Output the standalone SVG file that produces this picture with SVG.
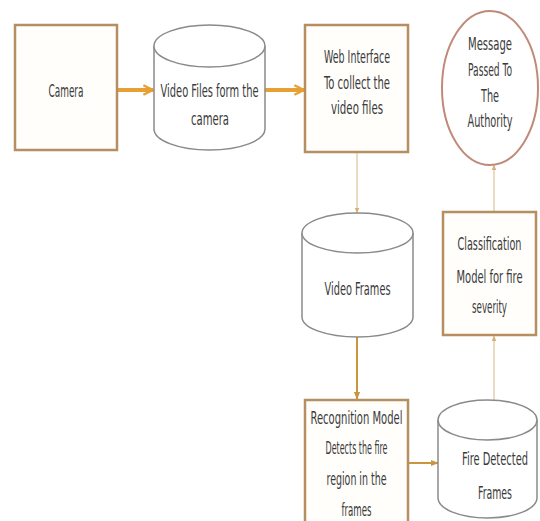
<svg xmlns="http://www.w3.org/2000/svg" width="540" height="521" viewBox="0 0 540 521">
<defs>
<style>
.box{fill:#fffefb;stroke:#b58f62;stroke-width:2.5}
.cyl{fill:#ffffff;stroke:#8a8a8a;stroke-width:1.5}
.msg{fill:#ffffff;stroke:#c08a78;stroke-width:2}
text{font-family:"Liberation Sans Narrow","DejaVu Sans Condensed","Liberation Sans",Arial,sans-serif;font-size:18px;fill:#3a3a3a;text-anchor:middle;dominant-baseline:central}
.thick{stroke:#e6a033;stroke-width:4;fill:none}
.mid{stroke:#c9953e;stroke-width:2;fill:none}
.thin{stroke:#dcc49a;stroke-width:1.2;fill:none}
</style>
<marker id="ahBig" viewBox="0 0 10 10" refX="9" refY="5" markerWidth="3" markerHeight="3.5" orient="auto" markerUnits="strokeWidth">
<path d="M1,1 L9,5 L1,9" fill="none" stroke="#e6a033" stroke-width="2"/>
</marker>
<marker id="ahMid" viewBox="0 0 10 10" refX="9" refY="5" markerWidth="4" markerHeight="4" orient="auto" markerUnits="strokeWidth">
<path d="M0,1 L10,5 L0,9 Z" fill="#c9953e"/>
</marker>
<marker id="ahThin" viewBox="0 0 10 10" refX="9" refY="5" markerWidth="5" markerHeight="5" orient="auto" markerUnits="strokeWidth">
<path d="M0,1 L10,5 L0,9 Z" fill="#d4b07a"/>
</marker>
</defs>
<rect width="540" height="521" fill="#ffffff"/>

<g id="connectors">
<line class="thick" x1="117" y1="90" x2="153" y2="90" marker-end="url(#ahBig)"/>
<line class="thick" x1="265" y1="90" x2="304" y2="90" marker-end="url(#ahBig)"/>
<line class="thin" x1="357" y1="152" x2="357" y2="213" marker-end="url(#ahThin)"/>
<line class="mid" x1="357" y1="337" x2="357" y2="399" marker-end="url(#ahMid)"/>
<line class="mid" x1="408" y1="463" x2="438" y2="463" stroke-width="1.5" marker-end="url(#ahMid)"/>
<line class="thin" x1="494" y1="400" x2="494" y2="336" marker-end="url(#ahThin)"/>
<line class="thin" x1="494" y1="211" x2="494" y2="165" marker-end="url(#ahThin)"/>
</g>

<g id="camera">
<rect class="box" x="15" y="25" width="102" height="125"/>
<text x="66" y="90" textLength="35" lengthAdjust="spacingAndGlyphs">Camera</text>
</g>

<g id="video-files">
<path class="cyl" d="M154,46 A55.5,21 0 0 1 265,46 V129 A55.5,21 0 0 1 154,129 Z"/>
<path class="cyl" fill="none" d="M154,46 A55.5,21 0 0 0 265,46"/>
<text x="209.5" y="90" textLength="98" lengthAdjust="spacingAndGlyphs">Video Files form the</text>
<text x="210" y="118" textLength="38" lengthAdjust="spacingAndGlyphs">camera</text>
</g>

<g id="web-interface">
<rect class="box" x="305" y="25" width="103" height="127"/>
<text x="357" y="56" textLength="66" lengthAdjust="spacingAndGlyphs">Web Interface</text>
<text x="357" y="82" textLength="66" lengthAdjust="spacingAndGlyphs">To collect the</text>
<text x="357" y="107" textLength="52" lengthAdjust="spacingAndGlyphs">video files</text>
</g>

<g id="message">
<ellipse class="msg" cx="490" cy="88" rx="48" ry="77"/>
<text x="490" y="43" textLength="44" lengthAdjust="spacingAndGlyphs">Message</text>
<text x="490" y="69" textLength="44" lengthAdjust="spacingAndGlyphs">Passed To</text>
<text x="490" y="95" textLength="18" lengthAdjust="spacingAndGlyphs">The</text>
<text x="490" y="120" textLength="45" lengthAdjust="spacingAndGlyphs">Authority</text>
</g>

<g id="video-frames">
<path class="cyl" d="M302,233 A55.5,20 0 0 1 413,233 V317 A55.5,20 0 0 1 302,317 Z"/>
<path class="cyl" fill="none" d="M302,233 A55.5,20 0 0 0 413,233"/>
<text x="357.5" y="288" textLength="66" lengthAdjust="spacingAndGlyphs">Video Frames</text>
</g>

<g id="classification">
<rect class="box" x="443" y="212" width="93" height="123"/>
<text x="489.5" y="243" textLength="64" lengthAdjust="spacingAndGlyphs">Classification</text>
<text x="489.5" y="276" textLength="66" lengthAdjust="spacingAndGlyphs">Model for fire</text>
<text x="489.5" y="306" textLength="35" lengthAdjust="spacingAndGlyphs">severity</text>
</g>

<g id="recognition">
<rect class="box" x="305" y="400" width="103" height="126"/>
<text x="356.5" y="417" textLength="92" lengthAdjust="spacingAndGlyphs">Recognition Model</text>
<text x="356.5" y="447" textLength="62" lengthAdjust="spacingAndGlyphs">Detects the fire</text>
<text x="356.5" y="478" textLength="60" lengthAdjust="spacingAndGlyphs">region in the</text>
<text x="356.5" y="509" textLength="30" lengthAdjust="spacingAndGlyphs">frames</text>
</g>

<g id="fire-detected">
<path class="cyl" d="M438,420 A49.5,20 0 0 1 537,420 V498 A49.5,20 0 0 1 438,498 Z"/>
<path class="cyl" fill="none" d="M438,420 A49.5,20 0 0 0 537,420"/>
<text x="495" y="458" textLength="66" lengthAdjust="spacingAndGlyphs">Fire Detected</text>
<text x="495" y="492" textLength="34" lengthAdjust="spacingAndGlyphs">Frames</text>
</g>
</svg>
